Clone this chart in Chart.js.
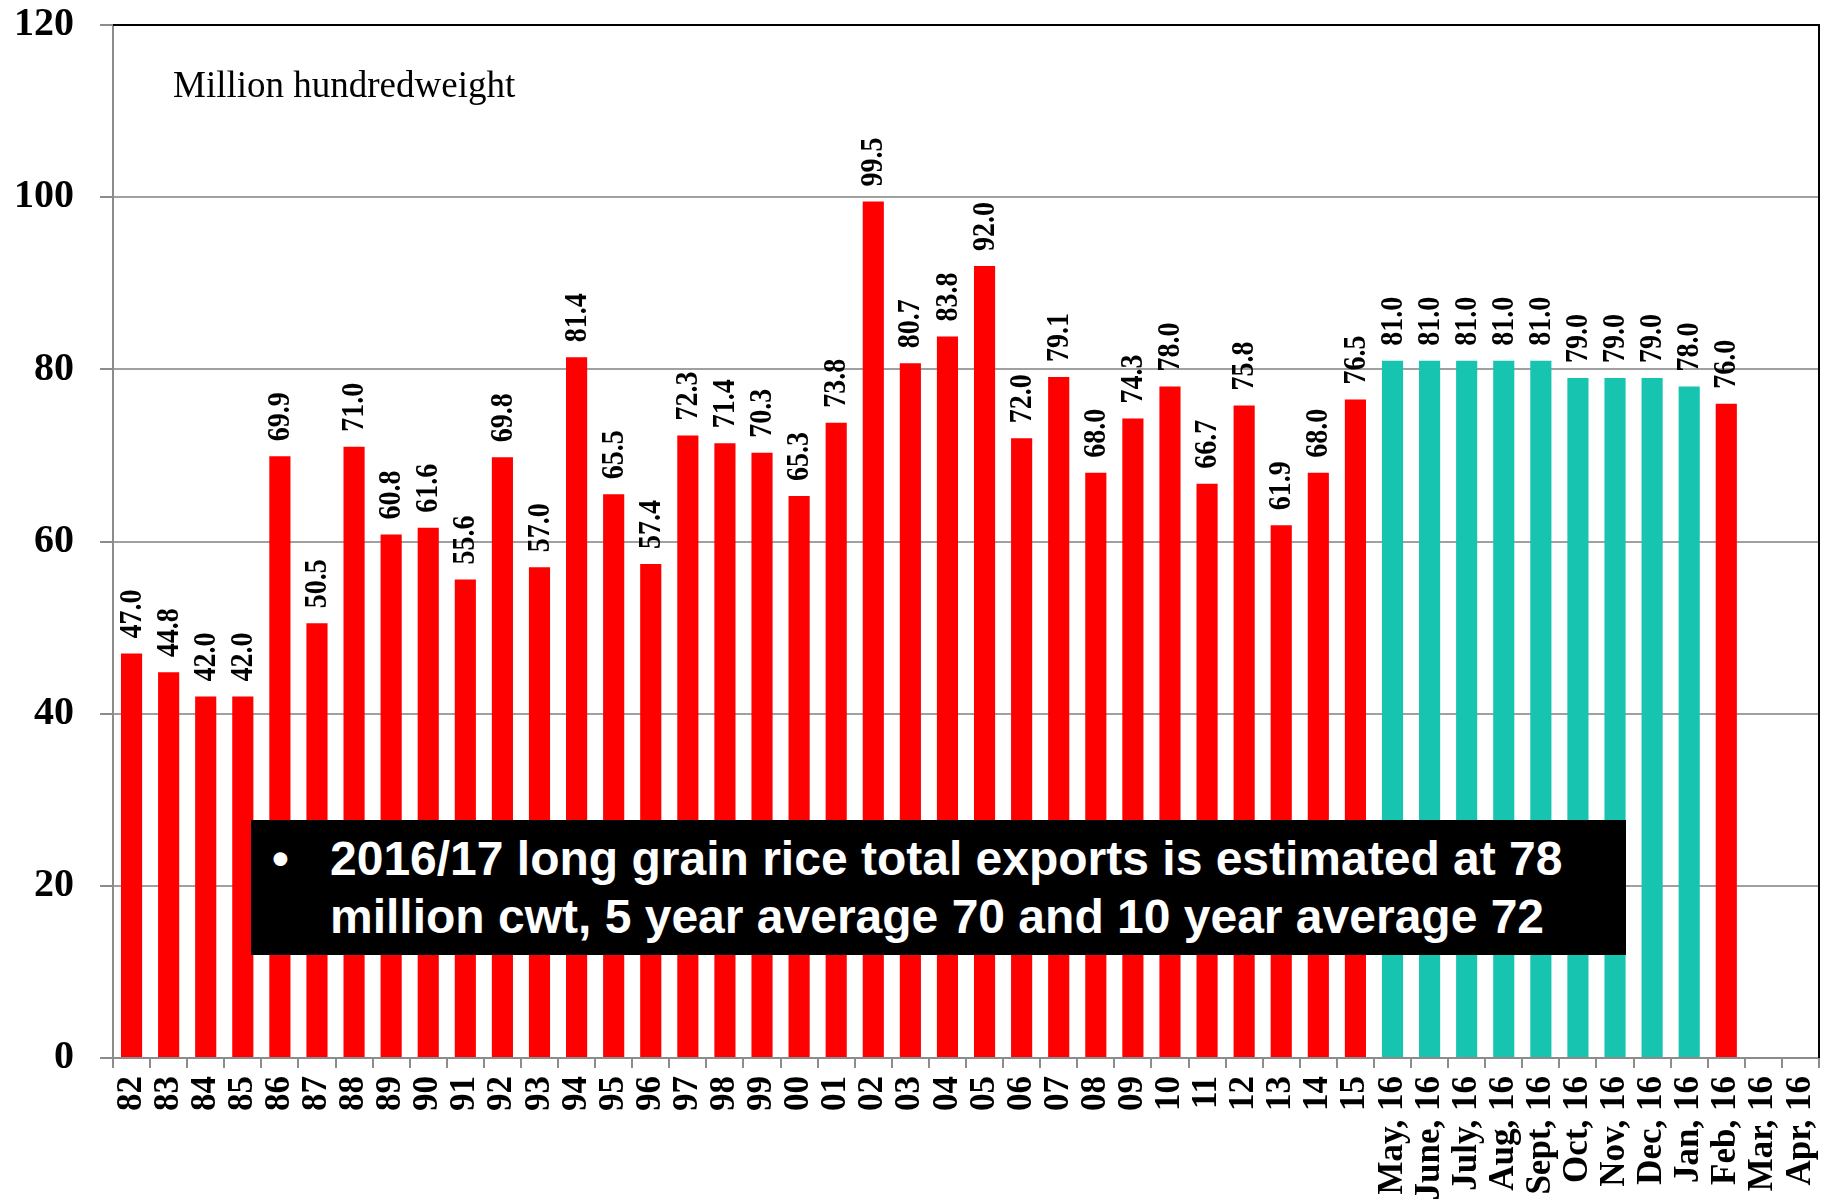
<!DOCTYPE html>
<html>
<head>
<meta charset="utf-8">
<title>Long grain rice total exports</title>
<script src="https://cdn.jsdelivr.net/npm/chart.js@4/dist/chart.umd.min.js"></script>
<style>
    html, body { margin: 0; padding: 0; background: #fff; }
    #wrap { position: relative; width: 1837px; height: 1204px; }
    #note {
        position: absolute; left: 251px; top: 820px; width: 1375px; height: 135px;
        background: #000; color: #fff;
        font: bold 48px "Liberation Sans", Arial, sans-serif; line-height: 58px;
    }
    #note .bullet { position: absolute; left: 21px; top: 10px; }
    #note .text   { position: absolute; left: 79px; top: 10px; white-space: nowrap; }
</style>
</head>
<body>
<div id="wrap">
    <canvas id="riceChart" width="1837" height="1204"></canvas>
    <div id="note">
        <span class="bullet">•</span>
        <div class="text">2016/17 long grain rice total exports is estimated at 78<br>million cwt, 5 year average 70 and 10 year average 72</div>
    </div>
</div>
<script>
// ── Data ──────────────────────────────────────────────────────────────────────

const years = ['82','83','84','85','86','87','88','89','90','91','92','93','94','95','96','97','98','99',
               '00','01','02','03','04','05','06','07','08','09','10','11','12','13','14','15'];
const annualExports = [47.0, 44.8, 42.0, 42.0, 69.9, 50.5, 71.0, 60.8, 61.6, 55.6, 69.8, 57.0, 81.4, 65.5,
                       57.4, 72.3, 71.4, 70.3, 65.3, 73.8, 99.5, 80.7, 83.8, 92.0, 72.0, 79.1, 68.0, 74.3,
                       78.0, 66.7, 75.8, 61.9, 68.0, 76.5];

const months = ['May, 16','June, 16','July, 16','Aug, 16','Sept, 16','Oct, 16',
                'Nov, 16','Dec, 16','Jan, 16','Feb, 16','Mar, 16','Apr, 16'];
const monthlyEstimates = [81.0, 81.0, 81.0, 81.0, 81.0, 79.0, 79.0, 79.0, 78.0, 76.0, null, null];
const currentMonth = 'Feb, 16';

const yTicks = [0, 20, 40, 60, 80, 100, 120];

// ── Build series ──────────────────────────────────────────────────────────────

const labels = years.concat(months);
const redSeries  = annualExports.concat(months.map((m, i) => m === currentMonth ? monthlyEstimates[i] : null));
const tealSeries = years.map(() => null).concat(months.map((m, i) => m === currentMonth ? null : monthlyEstimates[i]));

const SERIF = '"Liberation Serif", "Times New Roman", serif';

// value labels above bars, rotated (glyphs a touch taller, like the slide)
const barLabels = {
    id: 'barLabels',
    afterDatasetsDraw(chart) {
        const ctx = chart.ctx;
        ctx.save();
        ctx.fillStyle = '#000';
        ctx.font = `bold 28px ${SERIF}`;
        ctx.textAlign = 'left';
        ctx.textBaseline = 'middle';
        chart.data.datasets.forEach((ds, di) => {
            chart.getDatasetMeta(di).data.forEach((bar, i) => {
                const v = ds.data[i];
                if (v == null) return;
                ctx.save();
                ctx.translate(bar.x + 1, bar.y - 15);
                ctx.rotate(-Math.PI / 2);
                ctx.scale(1, 1.12);
                ctx.fillText(v.toFixed(1), 0, 0);
                ctx.restore();
            });
        });
        ctx.restore();
    }
};

// black top/right frame + unit note
const frame = {
    id: 'frame',
    afterDraw(chart) {
        const { ctx, chartArea: a } = chart;
        ctx.save();
        ctx.strokeStyle = '#000';
        ctx.lineWidth = 2;
        ctx.beginPath();
        ctx.moveTo(a.left, a.top);
        ctx.lineTo(a.right, a.top);
        ctx.lineTo(a.right, a.bottom);
        ctx.stroke();
        ctx.fillStyle = '#000';
        ctx.font = `37px ${SERIF}`;
        ctx.textAlign = 'left';
        ctx.textBaseline = 'alphabetic';
        ctx.fillText('Million hundredweight', 173, 97);
        ctx.restore();
    }
};

new Chart(document.getElementById('riceChart').getContext('2d'), {
    type: 'bar',
    data: {
        labels,
        datasets: [
            { label: 'Annual', data: redSeries, backgroundColor: '#ff0000',
              grouped: false, barPercentage: 0.57, categoryPercentage: 1.0 },
            { label: 'Monthly estimate', data: tealSeries, backgroundColor: '#17c4b0',
              grouped: false, barPercentage: 0.57, categoryPercentage: 1.0 }
        ]
    },
    options: {
        responsive: false,
        animation: false,
        layout: { padding: { top: 25, right: 18, left: 0, bottom: 0 } },
        plugins: { legend: { display: false }, tooltip: { enabled: false } },
        scales: {
            x: {
                afterFit: s => { s.height = 146; s.paddingLeft = 0; s.paddingRight = 0; },
                grid: { offset: true, drawOnChartArea: false, color: '#8c8c8c', lineWidth: 2, tickLength: 10 },
                border: { color: '#8c8c8c', width: 2 },
                ticks: {
                    autoSkip: false, maxRotation: 90, minRotation: 90, padding: 8,
                    color: '#000', font: { family: SERIF, size: 35, weight: 'bold' }
                }
            },
            y: {
                min: 0, max: 120,
                afterFit: s => { s.width = 113; s.paddingTop = 0; s.paddingBottom = 0; },
                afterBuildTicks: s => { s.ticks = yTicks.map(v => ({ value: v })); },
                grid: {
                    color: c => c.tick && c.tick.value === 120 ? '#000' : '#a0a0a0',
                    tickColor: '#8c8c8c', lineWidth: 2, tickLength: 13
                },
                border: { color: '#8c8c8c', width: 2 },
                ticks: {
                    padding: 26, color: '#000',
                    font: { family: SERIF, size: 40, weight: 'bold' }
                }
            }
        }
    },
    plugins: [barLabels, frame]
});
</script>
</body>
</html>
